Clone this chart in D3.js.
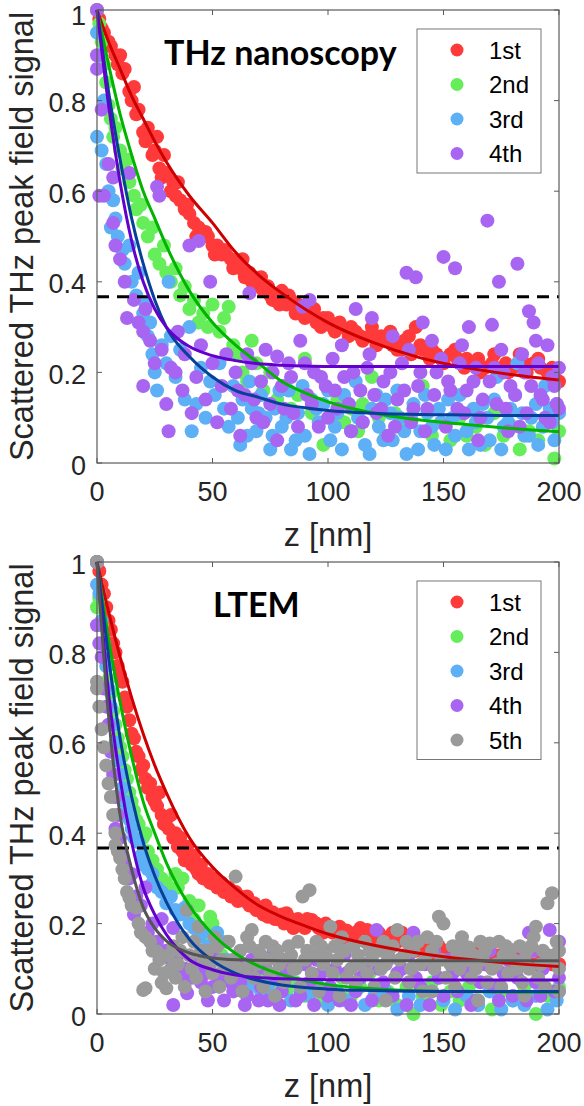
<!DOCTYPE html>
<html>
<head>
<meta charset="utf-8">
<script src="https://cdn.jsdelivr.net/npm/d3@7"></script>
<style>
  body { margin: 0; background: #fff; }
  text { font-family: "Liberation Sans", Arial, sans-serif; fill: #262626; }
</style>
</head>
<body>
<div id="chart"></div>
<script>
// axis ticks
const zTicks = [0, 50, 100, 150, 200];
const vTicks = [0, 0.2, 0.4, 0.6, 0.8, 1];
const eLevel = 0.367; // 1/e line

// ---- THz nanoscopy panel: measured points [z, signal]
const thzNames = ["1st", "2nd", "3rd", "4th"];
const thz1st = [[0,1],[1,0.98],[2,0.96],[3,0.95],[5,0.93],[6,0.92],[8,0.9],[9,0.88],[10,0.9],[11,0.86],[12,0.87],[14,0.82],[15,0.8],[16,0.83],[17,0.77],[18,0.78],[20,0.73],[21,0.71],[22,0.74],[23,0.72],[24,0.68],[25,0.69],[26,0.72],[27,0.65],[28,0.63],[29,0.68],[30,0.64],[32,0.6],[33,0.62],[34,0.59],[35,0.62],[36,0.58],[38,0.56],[39,0.57],[40,0.55],[42,0.53],[43,0.5],[44,0.52],[46,0.5],[47,0.51],[48,0.5],[50,0.48],[51,0.46],[52,0.48],[54,0.46],[55,0.47],[56,0.46],[58,0.45],[59,0.43],[60,0.44],[62,0.43],[63,0.45],[64,0.41],[66,0.42],[67,0.4],[68,0.41],[70,0.39],[71,0.41],[72,0.38],[74,0.39],[75,0.37],[76,0.36],[78,0.37],[79,0.35],[80,0.38],[82,0.35],[83,0.37],[84,0.36],[86,0.33],[87,0.35],[88,0.34],[90,0.32],[91,0.33],[92,0.35],[94,0.34],[95,0.31],[97,0.3],[98,0.32],[100,0.32],[102,0.3],[103,0.29],[105,0.31],[106,0.3],[109,0.28],[110,0.3],[112,0.29],[114,0.28],[115,0.27],[118,0.28],[119,0.3],[121,0.26],[123,0.28],[124,0.27],[127,0.29],[128,0.26],[130,0.25],[132,0.25],[133,0.27],[135,0.28],[136,0.24],[138,0.3],[140,0.26],[141,0.25],[144,0.23],[145,0.25],[147,0.24],[149,0.23],[150,0.22],[153,0.24],[155,0.25],[156,0.23],[159,0.21],[160,0.23],[162,0.22],[165,0.23],[166,0.2],[168,0.21],[171,0.22],[172,0.24],[174,0.2],[177,0.22],[178,0.2],[180,0.21],[183,0.24],[185,0.22],[186,0.2],[189,0.22],[191,0.23],[192,0.21],[195,0.2],[197,0.21],[198,0.19],[200,0.18]];
const thz2nd = [[0,1],[1,0.97],[2,0.93],[3,0.88],[4,0.84],[5,0.79],[6,0.76],[7,0.72],[8,0.74],[10,0.69],[11,0.65],[13,0.67],[14,0.62],[16,0.59],[17,0.56],[19,0.57],[20,0.53],[22,0.5],[24,0.52],[25,0.46],[27,0.44],[29,0.48],[30,0.42],[32,0.4],[34,0.43],[36,0.37],[38,0.39],[40,0.34],[42,0.36],[44,0.31],[46,0.33],[48,0.3],[50,0.35],[53,0.29],[55,0.32],[57,0.345],[59,0.26],[61,0.24],[63,0.2],[65,0.18],[67,0.27],[69,0.22],[72,0.16],[75,0.2],[78,0.14],[81,0.17],[84,0.12],[87,0.15],[90,0.23],[93,0.11],[96,0.13],[98,0.04],[101,0.1],[104,0.14],[107,0.09],[110,0.12],[113,0.07],[115,0.13],[119,0.19],[122,0.1],[125,0.06],[129,0.11],[133,0.08],[137,0.12],[141,0.17],[145,0.06],[149,0.09],[153,0.05],[157,0.1],[160,0.06],[164,0.08],[168,0.04],[172,0.11],[176,0.06],[180,0.08],[183,0.03],[187,0.07],[191,0.05],[195,0.09],[198,0.01],[200,0.07]];
const thz3rd = [[0,0.72],[0,0.95],[1,0.9],[2,0.69],[3,0.8],[4,0.66],[5,0.6],[6,0.52],[7,0.58],[8,0.54],[9,0.5],[11,0.47],[12,0.44],[14,0.48],[15,0.4],[17,0.37],[18,0.42],[20,0.33],[21,0.35],[22,0.28],[23,0.31],[24,0.24],[25,0.2],[26,0.16],[28,0.26],[30,0.22],[31,0.4],[32,0.28],[34,0.19],[36,0.25],[38,0.14],[40,0.3],[41,0.07],[43,0.13],[45,0.21],[47,0.1],[49,0.18],[51,0.15],[53,0.22],[55,0.12],[57,0.08],[59,0.17],[61,0.1],[62,0.04],[63,0.14],[65,0.06],[66,0.18],[67,0.12],[69,0.07],[70,0.11],[71,0.15],[73,0.1],[75,0.03],[76,0.06],[77,0.12],[79,0.16],[80,0.08],[82,0.1],[83,0.16],[84,0.03],[86,0.05],[87,0.11],[89,0.17],[90,0.06],[92,0.02],[93,0.14],[95,0.12],[96,0.09],[98,0.13],[100,0.16],[101,0.05],[103,0.08],[104,0.11],[106,0.03],[107,0.15],[109,0.13],[110,0.07],[112,0.18],[113,0.1],[115,0.09],[116,0.04],[118,0.02],[119,0.12],[121,0.15],[122,0.08],[124,0.05],[125,0.14],[127,0.11],[128,0.05],[130,0.16],[131,0.1],[133,0.07],[134,0.02],[136,0.1],[137,0.13],[139,0.03],[140,0.07],[142,0.15],[143,0.11],[145,0.08],[146,0.04],[148,0.12],[149,0.09],[151,0.03],[152,0.14],[154,0.1],[155,0.06],[157,0.15],[158,0.11],[160,0.07],[161,0.03],[163,0.12],[164,0.09],[166,0.04],[167,0.13],[169,0.1],[170,0.05],[172,0.14],[173,0.19],[175,0.03],[176,0.08],[178,0.09],[179,0.12],[181,0.15],[182,0.22],[184,0.11],[185,0.06],[187,0.06],[188,0.1],[190,0.13],[191,0.04],[193,0.08],[194,0.17],[196,0.12],[197,0.09],[198,0.05],[199,0.13],[200,0.11]];
const thz4th = [[0,1],[0,0.9],[0,0.87],[1,0.59],[2,0.78],[3,0.59],[5,0.66],[7,0.63],[7,0.53],[8,0.48],[10,0.45],[12,0.4],[13,0.32],[14,0.64],[16,0.36],[18,0.31],[20,0.29],[20,0.17],[21,0.34],[23,0.27],[25,0.22],[26,0.61],[27,0.59],[28,0.25],[30,0.13],[31,0.07],[32,0.21],[34,0.2],[35,0.29],[37,0.16],[38,0.24],[40,0.48],[41,0.11],[43,0.19],[44,0.49],[45,0.26],[47,0.14],[49,0.4],[50,0.22],[52,0.09],[54,0.17],[56,0.24],[58,0.12],[60,0.2],[61,0.16],[62,0.06],[64,0.15],[65,0.24],[66,0.375],[67,0.22],[68,0.14],[69,0.1],[71,0.18],[72,0.09],[73,0.25],[75,0.13],[76,0.2],[78,0.235],[78,0.05],[80,0.17],[81,0.12],[83,0.22],[84,0.19],[85,0.11],[87,0.08],[88,0.27],[89,0.345],[90,0.22],[91,0.15],[92,0.36],[93,0.13],[94,0.2],[96,0.08],[97,0.19],[99,0.17],[100,0.1],[102,0.23],[103,0.16],[104,0.12],[106,0.26],[107,0.19],[109,0.13],[110,0.07],[111,0.2],[112,0.34],[114,0.16],[115,0.09],[117,0.21],[118,0.24],[119,0.32],[120,0.15],[121,0.11],[123,0.12],[124,0.18],[126,0.06],[127,0.2],[128,0.28],[129,0.08],[130,0.14],[132,0.22],[133,0.16],[134,0.42],[135,0.25],[136,0.09],[137,0.12],[138,0.41],[139,0.17],[140,0.2],[141,0.31],[142,0.07],[143,0.12],[145,0.27],[146,0.15],[147,0.2],[149,0.23],[150,0.455],[151,0.08],[152,0.18],[153,0.16],[155,0.43],[156,0.12],[157,0.22],[158,0.26],[159,0.11],[160,0.16],[161,0.3],[163,0.18],[164,0.21],[165,0.05],[166,0.1],[167,0.14],[169,0.535],[170,0.18],[171,0.305],[172,0.21],[173,0.13],[174,0.4],[175,0.25],[176,0.2],[177,0.12],[178,0.07],[179,0.17],[181,0.15],[182,0.44],[183,0.08],[184,0.24],[185,0.2],[186,0.11],[187,0.335],[188,0.17],[189,0.31],[190,0.27],[191,0.22],[192,0.15],[193,0.14],[194,0.1],[195,0.26],[196,0.09],[197,0.19],[198,0.17],[199,0.13],[200,0.21],[200,0.12]];

// fitted decay curves [z, signal]
const thzFit1st = [[0,1],[5,0.93],[10,0.87],[15,0.81],[20,0.76],[25,0.71],[30,0.665],[40,0.59],[50,0.53],[60,0.465],[70,0.415],[80,0.375],[90,0.34],[100,0.31],[120,0.265],[140,0.232],[160,0.21],[180,0.195],[200,0.183]];
const thzFit2nd = [[0,1],[5,0.88],[10,0.77],[15,0.68],[20,0.6],[25,0.54],[30,0.48],[40,0.38],[50,0.31],[60,0.26],[70,0.22],[80,0.18],[90,0.155],[100,0.135],[120,0.11],[140,0.095],[160,0.085],[180,0.076],[200,0.069]];
const thzFit3rd = [[0,1],[5,0.82],[10,0.67],[15,0.54],[20,0.44],[25,0.36],[30,0.3],[40,0.235],[50,0.19],[60,0.16],[70,0.145],[80,0.13],[90,0.122],[100,0.116],[120,0.11],[140,0.107],[160,0.106],[180,0.105],[200,0.105]];
const thzFit4th = [[0,1],[5,0.79],[10,0.62],[15,0.49],[20,0.4],[25,0.34],[30,0.3],[40,0.257],[50,0.237],[60,0.226],[70,0.219],[80,0.216],[90,0.214],[100,0.213],[120,0.213],[140,0.213],[160,0.213],[180,0.213],[200,0.213]];

// ---- LTEM panel
const ltemNames = ["1st", "2nd", "3rd", "4th", "5th"];
const ltem1st = [[0,1],[1,0.98],[2,0.95],[3,0.93],[4,0.9],[5,0.87],[6,0.85],[7,0.82],[8,0.8],[9,0.77],[10,0.75],[11,0.735],[12,0.7],[13,0.68],[14,0.65],[15,0.62],[16,0.61],[17,0.58],[18,0.57],[19,0.54],[20,0.55],[21,0.52],[22,0.5],[23,0.51],[24,0.48],[25,0.47],[26,0.46],[27,0.49],[28,0.44],[29,0.42],[30,0.43],[31,0.41],[32,0.44],[33,0.39],[34,0.4],[35,0.37],[36,0.39],[37,0.36],[38,0.34],[39,0.37],[40,0.35],[41,0.33],[42,0.35],[43,0.32],[44,0.31],[45,0.33],[46,0.3],[48,0.31],[49,0.29],[50,0.29],[51,0.3],[52,0.28],[54,0.29],[55,0.27],[56,0.274],[57,0.28],[58,0.26],[60,0.27],[61,0.25],[62,0.26],[64,0.25],[65,0.26],[66,0.24],[68,0.245],[69,0.23],[70,0.23],[72,0.22],[73,0.24],[74,0.215],[76,0.225],[77,0.21],[78,0.21],[80,0.22],[81,0.2],[82,0.223],[84,0.21],[85,0.19],[87,0.21],[88,0.2],[90,0.19],[91,0.21],[93,0.208],[95,0.2],[96,0.19],[98,0.18],[99,0.2],[101,0.19],[102,0.18],[105,0.193],[107,0.17],[108,0.185],[111,0.17],[112,0.18],[114,0.19],[117,0.186],[118,0.17],[120,0.17],[122,0.18],[124,0.16],[126,0.17],[128,0.18],[130,0.16],[132,0.18],[134,0.16],[136,0.15],[138,0.14],[140,0.16],[142,0.15],[144,0.14],[146,0.13],[148,0.15],[150,0.14],[152,0.13],[154,0.14],[157,0.146],[159,0.13],[161,0.12],[163,0.14],[165,0.13],[168,0.11],[170,0.12],[172,0.13],[175,0.13],[178,0.12],[180,0.11],[183,0.13],[185,0.12],[188,0.11],[190,0.11],[193,0.12],[195,0.127],[197,0.11],[199,0.112],[200,0.11]];
const ltem2nd = [[0,1],[0,0.9],[1,0.92],[2,0.86],[3,0.82],[4,0.78],[5,0.74],[6,0.71],[7,0.67],[8,0.64],[9,0.61],[10,0.59],[11,0.57],[12,0.54],[13,0.52],[14,0.49],[15,0.47],[16,0.45],[17,0.43],[18,0.42],[20,0.39],[21,0.4],[22,0.36],[24,0.34],[26,0.32],[28,0.3],[30,0.29],[32,0.27],[34,0.31],[35,0.28],[37,0.3],[38,0.23],[40,0.25],[42,0.21],[44,0.24],[46,0.19],[48,0.17],[49,0.215],[50,0.2],[52,0.15],[54,0.13],[56,0.16],[58,0.11],[60,0.12],[63,0.09],[66,0.1],[69,0.07],[72,0.08],[75,0.06],[78,0.09],[82,0.05],[86,0.07],[90,0.04],[94,0.06],[98,0.03],[102,0.05],[106,0.08],[110,0.04],[114,0.06],[118,0.09],[122,0.03],[126,0.05],[130,0.02],[134,0.06],[137,0],[141,0.04],[145,0.07],[149,0.02],[153,0.05],[157,0.03],[161,0.06],[165,0.02],[171,0.01],[175,0.05],[180,0.03],[185,0.06],[190,0],[195,0.04],[200,0.06]];
const ltem3rd = [[0,1],[0,0.95],[1,0.93],[2,0.87],[3,0.82],[4,0.77],[5,0.72],[6,0.68],[7,0.64],[8,0.6],[9,0.56],[10,0.53],[11,0.5],[12,0.47],[13,0.45],[14,0.43],[15,0.41],[16,0.39],[18,0.38],[19,0.35],[20,0.33],[22,0.32],[24,0.31],[24,0.29],[26,0.28],[28,0.27],[30,0.245],[32,0.26],[34,0.23],[36,0.22],[38,0.235],[40,0.2],[42,0.19],[44,0.17],[46,0.18],[48,0.15],[50,0.14],[52,0.18],[54,0.16],[56,0.12],[58,0.1],[60,0.11],[63,0.08],[65,0.053],[68,0.07],[71,0.05],[74,0.06],[77,0.04],[80,0.07],[84,0.03],[88,0.05],[92,0.04],[96,0.06],[100,0.02],[104,0.05],[108,0.03],[112,0.06],[116,0.02],[120,0.04],[125,0.05],[130,0.01],[135,0.04],[140,0.02],[145,0.05],[150,0.03],[155,0.01],[160,0.04],[165,0.02],[170,0.05],[175,0.01],[180,0.03],[185,0.02],[190,0.04],[195,0.01],[199,0.03],[200,0.05]];
const ltem4th = [[0,1],[0,0.86],[1,0.82],[2,0.79],[3,0.72],[4,0.68],[5,0.64],[6,0.58],[7,0.53],[8,0.48],[8,0.41],[9,0.44],[10,0.39],[11,0.35],[12,0.33],[14,0.3],[15,0.31],[16,0.22],[17,0.26],[19,0.24],[21,0.28],[22,0.18],[24,0.2],[26,0.16],[28,0.21],[30,0.14],[32,0.12],[33,0.19],[33,0.02],[35,0.13],[36,0.086],[38,0.1],[39,0.046],[41,0.08],[43,0.11],[45,0.07],[47,0.09],[48,0.03],[50,0.06],[51,0.12],[53,0.08],[55,0.03],[56,0.1],[58,0.07],[59,0.05],[61,0.11],[62,0.07],[64,0.02],[65,0.04],[67,0.12],[68,0.09],[70,0.03],[71,0.06],[73,0.1],[74,0.03],[76,0.13],[77,0.08],[79,0.02],[80,0.05],[82,0.09],[84,0.1],[86,0.03],[88,0.04],[90,0.11],[92,0.07],[94,0.02],[95,0.12],[97,0.09],[98,0.14],[100,0.04],[101,0.06],[103,0.1],[105,0.03],[107,0.13],[108,0.09],[110,0.02],[112,0.05],[114,0.08],[116,0.11],[118,0.14],[119,0.03],[121,0.186],[122,0.1],[124,0.07],[126,0.12],[128,0.04],[130,0.09],[132,0.1],[134,0.02],[135,0.13],[137,0.18],[138,0.08],[140,0.06],[142,0.11],[144,0.02],[146,0.14],[148,0.08],[150,0.04],[152,0.12],[154,0.09],[156,0.05],[158,0.13],[160,0.09],[162,0.02],[164,0.03],[166,0.07],[168,0.11],[170,0.14],[172,0.06],[174,0.03],[176,0.09],[178,0.12],[180,0.04],[182,0.08],[184,0.12],[186,0.03],[187,0.18],[189,0.14],[190,0.07],[192,0.04],[193,0.1],[195,0.13],[196,0.186],[198,0.05],[200,0.08],[200,0.16]];
const ltem5th = [[0,1],[0,0.735],[0,0.72],[1,0.68],[2,0.63],[3,0.59],[4,0.55],[5,0.51],[6,0.48],[7,0.44],[8,0.4],[8,0.374],[9,0.36],[10,0.345],[11,0.32],[12,0.3],[13,0.27],[14,0.257],[15,0.24],[17,0.235],[18,0.2],[19,0.18],[20,0.053],[21,0.17],[21,0.057],[23,0.16],[24,0.14],[25,0.1],[26,0.138],[27,0.12],[28,0.069],[29,0.09],[30,0.057],[31,0.13],[32,0.1],[33,0.15],[34,0.08],[35,0.11],[36,0.14],[37,0.17],[38,0.06],[39,0.23],[40,0.13],[41,0.1],[42,0.16],[43,0.08],[44,0.193],[45,0.14],[46,0.12],[47,0.05],[48,0.14],[49,0.11],[50,0.09],[51,0.17],[52,0.15],[53,0.06],[54,0.12],[55,0.1],[57,0.16],[58,0.08],[59,0.12],[60,0.304],[61,0.1],[62,0.14],[63,0.05],[64,0.1],[65,0.17],[66,0.15],[67,0.186],[68,0.08],[69,0.11],[70,0.14],[71,0.13],[72,0.06],[73,0.16],[74,0.12],[75,0.09],[76,0.15],[77,0.04],[78,0.14],[79,0.11],[80,0.12],[81,0.07],[83,0.15],[84,0.13],[85,0.1],[86,0.1],[87,0.16],[88,0.06],[89,0.26],[90,0.12],[91,0.14],[92,0.274],[93,0.09],[94,0.13],[95,0.16],[96,0.05],[97,0.15],[98,0.11],[99,0.13],[101,0.193],[102,0.09],[103,0.15],[104,0.12],[105,0.04],[106,0.17],[107,0.14],[108,0.08],[110,0.1],[111,0.15],[112,0.07],[113,0.13],[114,0.11],[116,0.16],[117,0.09],[118,0.14],[119,0.12],[120,0.06],[122,0.14],[123,0.1],[124,0.16],[125,0.11],[125,0.03],[126,0.13],[128,0.15],[129,0.08],[130,0.186],[131,0.12],[133,0.13],[134,0.16],[135,0.07],[136,0.1],[137,0.14],[139,0.16],[140,0.11],[141,0.05],[142,0.12],[143,0.17],[145,0.14],[145,0.05],[146,0.1],[147,0.16],[148,0.215],[149,0.12],[150,0.2],[151,0.08],[153,0.11],[154,0.15],[155,0.06],[156,0.13],[157,0.1],[158,0.17],[159,0.15],[160,0.12],[161,0.147],[162,0.08],[163,0.13],[164,0.1],[165,0.03],[166,0.16],[167,0.12],[168,0.14],[169,0.07],[170,0.156],[171,0.1],[173,0.11],[174,0.16],[175,0.06],[176,0.13],[177,0.15],[178,0.09],[179,0.142],[180,0.12],[182,0.1],[183,0.15],[184,0.07],[185,0.12],[185,0.04],[186,0.14],[187,0.1],[188,0.15],[189,0.17],[190,0.193],[191,0.08],[192,0.11],[193,0.14],[194,0.06],[195,0.245],[196,0.12],[197,0.267],[198,0.13],[199,0.16],[200,0.1],[200,0.05],[200,0.14]];

const ltemFit1st = [[0,1],[5,0.89],[10,0.79],[15,0.7],[20,0.62],[25,0.55],[30,0.49],[40,0.39],[50,0.325],[60,0.278],[70,0.24],[80,0.215],[90,0.195],[100,0.177],[120,0.152],[140,0.134],[160,0.121],[180,0.112],[200,0.105]];
const ltemFit2nd = [[0,1],[5,0.83],[10,0.69],[15,0.57],[20,0.47],[25,0.4],[30,0.335],[40,0.24],[50,0.177],[60,0.134],[70,0.106],[80,0.087],[100,0.065],[120,0.056],[150,0.05],[200,0.048]];
const ltemFit3rd = [[0,1],[5,0.79],[10,0.61],[15,0.48],[20,0.38],[25,0.306],[30,0.248],[40,0.165],[50,0.118],[60,0.09],[70,0.074],[80,0.064],[100,0.055],[120,0.052],[150,0.05],[200,0.05]];
const ltemFit4th = [[0,1],[5,0.71],[10,0.52],[15,0.38],[20,0.28],[25,0.22],[30,0.176],[40,0.12],[50,0.098],[60,0.086],[80,0.078],[100,0.076],[150,0.075],[200,0.075]];
const ltemFit5th = [[0,1],[5,0.66],[10,0.44],[15,0.32],[20,0.236],[25,0.19],[30,0.162],[40,0.135],[50,0.124],[60,0.12],[80,0.118],[120,0.118],[200,0.118]];

// colours per harmonic: dots, fit line
const dotColors = ["#ff3a3a", "#66ee5a", "#5db0f5", "#a865f2", "#9a9a9a"];
const fitColors = ["#cc0000", "#00b400", "#073f9a", "#6200cc", "#555555"];

const W = 584, H = 1106;
const svg = d3.select("#chart").append("svg")
    .attr("width", W)
    .attr("height", H);
svg.append("rect").attr("width", W).attr("height", H).attr("fill", "#fff");

function drawPanel(opts) {
    const x = d3.scaleLinear().domain([0, 200]).range([97, 559]);
    const y = d3.scaleLinear().domain([0, 1]).range([opts.bottom, opts.top]);
    const g = svg.append("g");

    // scatter, one layer per harmonic
    opts.points.forEach((pts, i) => {
        g.append("g").selectAll("circle")
            .data(pts)
            .enter().append("circle")
            .attr("cx", d => x(d[0]))
            .attr("cy", d => y(d[1]))
            .attr("r", 7)
            .attr("fill", dotColors[i]);
    });

    // dashed 1/e level
    g.append("line")
        .attr("x1", x(0)).attr("x2", x(200))
        .attr("y1", y(eLevel)).attr("y2", y(eLevel))
        .attr("stroke", "#000")
        .attr("stroke-width", 3)
        .attr("stroke-dasharray", "12,8");

    // fit curves
    const line = d3.line()
        .x(d => x(d[0]))
        .y(d => y(d[1]))
        .curve(d3.curveMonotoneX);
    opts.fits.forEach((f, i) => {
        g.append("path")
            .datum(f)
            .attr("d", line)
            .attr("fill", "none")
            .attr("stroke", fitColors[i])
            .attr("stroke-width", 3);
    });

    // box with inward ticks (MATLAB style)
    const axisColor = "#5a5a5a";
    g.append("rect")
        .attr("x", x(0)).attr("y", y(1))
        .attr("width", x(200) - x(0)).attr("height", y(0) - y(1))
        .attr("fill", "none")
        .attr("stroke", axisColor)
        .attr("stroke-width", 1.2);
    const tl = 5;
    zTicks.forEach(t => {
        g.append("line").attr("x1", x(t)).attr("x2", x(t))
            .attr("y1", y(0)).attr("y2", y(0) - tl).attr("stroke", axisColor);
        g.append("line").attr("x1", x(t)).attr("x2", x(t))
            .attr("y1", y(1)).attr("y2", y(1) + tl).attr("stroke", axisColor);
        g.append("text")
            .attr("x", x(t))
            .attr("y", y(0) + 38)
            .attr("text-anchor", "middle")
            .style("font-size", "27px")
            .text(t);
    });
    vTicks.forEach(t => {
        g.append("line").attr("x1", x(0)).attr("x2", x(0) + tl)
            .attr("y1", y(t)).attr("y2", y(t)).attr("stroke", axisColor);
        g.append("line").attr("x1", x(200)).attr("x2", x(200) - tl)
            .attr("y1", y(t)).attr("y2", y(t)).attr("stroke", axisColor);
        g.append("text")
            .attr("x", 86)
            .attr("y", Math.max(y(t), 13.5))
            .attr("dy", "0.43em")
            .attr("text-anchor", "end")
            .style("font-size", "27px")
            .text(t);
    });

    // axis labels
    g.append("text")
        .attr("x", 328)
        .attr("y", y(0) + 83)
        .attr("text-anchor", "middle")
        .style("font-size", "32.5px")
        .text("z [nm]");
    g.append("text")
        .attr("transform", `translate(33,${(y(0) + y(1)) / 2}) rotate(-90)`)
        .attr("text-anchor", "middle")
        .style("font-size", "32.5px")
        .text("Scattered THz peak field signal");

    // panel title
    g.append("text")
        .attr("x", opts.titleX)
        .attr("y", y(1) + 55)
        .style("font-family", "Lato, 'Open Sans', sans-serif")
        .style("font-weight", "bold")
        .style("font-size", "34px")
        .style("fill", "#000")
        .text(opts.title);

    // legend
    const step = 34.5;
    const lg = g.append("g").attr("transform", `translate(417,${y(1) + 19})`);
    lg.append("rect")
        .attr("width", 124)
        .attr("height", opts.names.length * step + 6)
        .attr("fill", "#fff")
        .attr("stroke", "#777")
        .attr("stroke-width", 1);
    opts.names.forEach((n, i) => {
        const cy = 21 + i * step;
        lg.append("circle")
            .attr("cx", 40).attr("cy", cy).attr("r", 6.5)
            .attr("fill", dotColors[i]);
        lg.append("text")
            .attr("x", 72).attr("y", cy)
            .attr("dy", "0.36em")
            .style("font-size", "24px")
            .style("fill", "#000")
            .text(n);
    });
}

drawPanel({
    top: 10, bottom: 463,
    title: "THz nanoscopy", titleX: 164,
    names: thzNames,
    points: [thz1st, thz2nd, thz3rd, thz4th],
    fits: [thzFit1st, thzFit2nd, thzFit3rd, thzFit4th]
});

drawPanel({
    top: 562, bottom: 1014,
    title: "LTEM", titleX: 213,
    names: ltemNames,
    points: [ltem1st, ltem2nd, ltem3rd, ltem4th, ltem5th],
    fits: [ltemFit1st, ltemFit2nd, ltemFit3rd, ltemFit4th, ltemFit5th]
});
</script>
</body>
</html>
